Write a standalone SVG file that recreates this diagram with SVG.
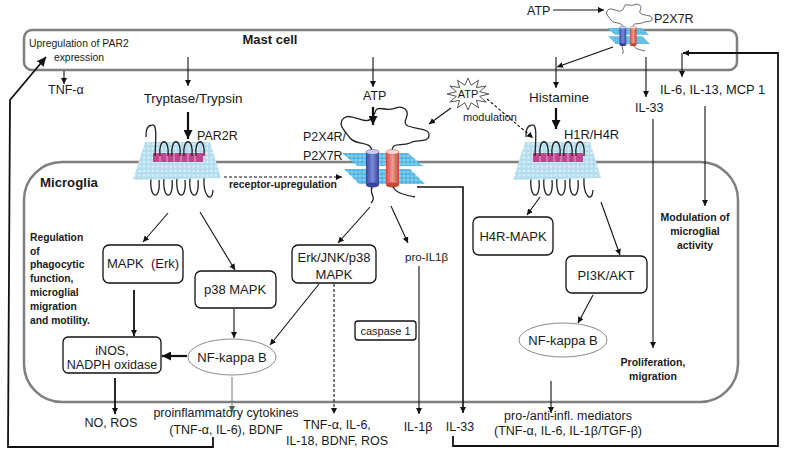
<svg xmlns="http://www.w3.org/2000/svg" xmlns:xlink="http://www.w3.org/1999/xlink" width="791" height="451" viewBox="0 0 791 451">
<style>
text{font-family:"Liberation Sans",Arial,sans-serif;fill:#1a1a1a;font-size:12.5px}
.b{font-weight:bold}
.m{text-anchor:middle}
.cell{fill:none;stroke:#7f7f7f;stroke-width:2.5}
.box{fill:#fff;stroke:#111;stroke-width:1.3}
.ell{fill:#fff;stroke:#8a8a8a;stroke-width:1}
.c{fill:none;stroke:#111;stroke-width:1.1}
.t{fill:none;stroke:#111;stroke-width:2.2}
.k{fill:none;stroke:#111;stroke-width:1.8}
.d{fill:none;stroke:#111;stroke-width:1.1;stroke-dasharray:3 2}
.g{fill:none;stroke:#777;stroke-width:1}
.loop{fill:none;stroke:#222;stroke-width:1.3}
</style>
<defs>
<marker id="a" viewBox="0 0 10 10" refX="10" refY="5" markerWidth="6" markerHeight="6" markerUnits="userSpaceOnUse" orient="auto"><path d="M0,0 L10,5 L0,10 z" fill="#111"/></marker>
<marker id="A" viewBox="0 0 10 10" refX="10" refY="5" markerWidth="9" markerHeight="9" markerUnits="userSpaceOnUse" orient="auto"><path d="M0,0 L10,5 L0,10 z" fill="#111"/></marker>
<marker id="ag" viewBox="0 0 10 10" refX="10" refY="5" markerWidth="6" markerHeight="6" markerUnits="userSpaceOnUse" orient="auto"><path d="M0,0 L10,5 L0,10 z" fill="#555"/></marker>
<pattern id="beads" width="4.5" height="4.5" patternUnits="userSpaceOnUse"><rect width="4.5" height="4.5" fill="#e4f4fa"/><circle cx="2.25" cy="2.25" r="1.9" fill="#b5dff0" stroke="#86c4de" stroke-width="0.4"/></pattern>
<pattern id="beads2" width="4" height="4" patternUnits="userSpaceOnUse"><rect width="4" height="4" fill="#8fd3f0"/><circle cx="2" cy="2" r="1.6" fill="#4fb6e4" stroke="#3aa0d0" stroke-width="0.3"/></pattern>
<linearGradient id="blu" x1="0" x2="1"><stop offset="0" stop-color="#3a4aa8"/><stop offset="0.5" stop-color="#7c8ad6"/><stop offset="1" stop-color="#36449a"/></linearGradient>
<linearGradient id="red" x1="0" x2="1"><stop offset="0" stop-color="#c9503a"/><stop offset="0.5" stop-color="#f29a86"/><stop offset="1" stop-color="#c04a36"/></linearGradient>
<g id="gpcr">
<path class="loop" d="M151,178 C149,200 161,201 159,180 M164,178 C162,200 174,201 172,180 M177,178 C175,200 187,201 185,180 M190,178 C188,200 200,201 198,180 M204,178 C203,196 212,204 213,190"/>
<polygon points="145,142 210,142 221,178 133,180" fill="url(#beads)"/>
<rect x="153" y="153" width="50" height="9" fill="#c2468f"/>
<path d="M160,153v9M167,153v9M174,153v9M181,153v9M188,153v9M195,153v9" stroke="#f0c0dc" stroke-width="0.8"/>
<path class="loop" d="M155,156 C156,136 157,124 152,125 C146,126 146,132 146,137 M160,156 C158,137 170,137 168,156 M172,156 C170,137 182,137 180,156 M184,156 C182,137 194,137 192,156 M196,156 C194,137 206,137 204,156"/>
</g>
<g id="p2x">
<polygon points="342,153 408,153 423,166 357,166" fill="url(#beads2)"/>
<polygon points="344,169 410,169 425,184 359,184" fill="url(#beads2)"/>
<path class="loop" d="M372,152 C372,140 356,146 350,138 C344,130 337,124 344,118 C351,112 365,126 372,118 C378,111 372,107 385,109 C395,111 398,104 405,109 C412,115 400,122 408,126 C418,130 430,128 429,136 C428,143 415,139 410,143 C401,147 392,141 392,152"/>
<rect x="366" y="152" width="13" height="33" fill="url(#blu)"/>
<ellipse cx="372.5" cy="152" rx="6.5" ry="2.5" fill="#c8cff0" stroke="#3a4aa8" stroke-width="0.5"/>
<ellipse cx="372.5" cy="185" rx="6.5" ry="2.5" fill="#36449a"/>
<rect x="386" y="152" width="13" height="33" fill="url(#red)"/>
<ellipse cx="392.5" cy="152" rx="6.5" ry="2.5" fill="#fbd8cf" stroke="#c04a36" stroke-width="0.5"/>
<ellipse cx="392.5" cy="185" rx="6.5" ry="2.5" fill="#c04a36"/>
<path class="loop" d="M372,187 C369,194 377,197 371,203 M393,187 C396,193 405,195 415,197"/>
</g>
</defs>
<rect width="791" height="451" fill="#fff"/>
<g id="mast-cell"><rect class="cell" x="24" y="30" width="713" height="40" rx="8"/></g>
<g id="microglia"><rect class="cell" x="24" y="162" width="714" height="240" rx="38"/></g>
<g id="par2r"><use xlink:href="#gpcr"/></g>
<g id="h1r-h4r"><use xlink:href="#gpcr" x="380"/></g>
<g id="p2x4r-p2x7r"><use xlink:href="#p2x"/></g>
<g id="p2x7r-top"><use xlink:href="#p2x" transform="translate(607,28) scale(0.52) translate(-342,-153)"/></g>
<g id="atp-burst"><polygon points="489,94 479.6,96.3 486.2,102 476.5,100.4 478.5,107.9 471.1,102.7 468,110 464.9,102.7 457.5,107.9 459.5,100.4 449.8,102 456.4,96.3 447,94 456.4,91.7 449.8,86 459.5,87.6 457.5,80.1 464.9,85.3 468,78 471.1,85.3 478.5,80.1 476.5,87.6 486.2,86 479.6,91.7" fill="#fff" stroke="#444" stroke-width="0.9"/><text class="m" x="468" y="98" style="font-size:11px">ATP</text></g>
<g id="mapk-erk"><rect class="box" x="103" y="245" width="80" height="38" rx="6"/><text class="m" x="143" y="268" style="font-size:13px">MAPK&#160; (Erk)</text></g>
<g id="p38-mapk"><rect class="box" x="195" y="271" width="81" height="37" rx="6"/><text class="m" x="235" y="294" style="font-size:13px">p38 MAPK</text></g>
<g id="erk-jnk"><rect class="box" x="292" y="245" width="84" height="38" rx="6"/><text class="m" x="334" y="262" style="font-size:13px">Erk/JNK/p38</text><text class="m" x="334" y="279" style="font-size:13px">MAPK</text></g>
<g id="inos"><rect class="box" x="63" y="337" width="98" height="36" rx="5"/><text class="m" x="112" y="355">iNOS,</text><text class="m" x="112" y="369">NADPH oxidase</text></g>
<g id="nfkb-left"><ellipse class="ell" cx="232" cy="357" rx="44" ry="18"/><text class="m" x="232" y="362" style="font-size:13px">NF-kappa B</text></g>
<g id="caspase"><rect class="box" x="355" y="321" width="61" height="19" rx="3"/><text class="m" x="385.5" y="335" style="font-size:11px">caspase 1</text></g>
<g id="h4r-mapk"><rect class="box" x="473" y="217" width="80" height="38" rx="6"/><text class="m" x="513" y="241" style="font-size:13px">H4R-MAPK</text></g>
<g id="pi3k"><rect class="box" x="566" y="256" width="81" height="37" rx="6"/><text class="m" x="606" y="280" style="font-size:13px">PI3K/AKT</text></g>
<g id="nfkb-right"><ellipse class="ell" cx="563" cy="340" rx="44" ry="17"/><text class="m" x="563" y="345" style="font-size:13px">NF-kappa B</text></g>
<g id="connectors">
<line class="c" x1="64" y1="71" x2="64" y2="84" marker-end="url(#a)"/>
<line class="c" x1="188" y1="57" x2="188" y2="86" marker-end="url(#a)"/>
<line class="t" x1="188" y1="112" x2="188" y2="139" marker-end="url(#A)"/>
<line class="c" x1="373" y1="57" x2="373" y2="87" marker-end="url(#a)"/>
<line class="t" x1="373" y1="107" x2="373" y2="125" marker-end="url(#A)"/>
<line class="c" x1="553" y1="10" x2="604" y2="10" marker-end="url(#a)"/>
<line class="c" x1="613" y1="47" x2="557" y2="67" marker-end="url(#a)"/>
<line class="c" x1="556" y1="57" x2="556" y2="88" marker-end="url(#a)"/>
<line class="t" x1="556" y1="108" x2="556" y2="129" marker-end="url(#A)"/>
<line class="c" x1="646" y1="57" x2="646" y2="97" marker-end="url(#a)"/>
<polyline class="k" points="453,436 453,446 778,446 778,53 683,53" marker-end="url(#a)"/>
<line class="c" x1="682" y1="53" x2="682" y2="77" marker-end="url(#a)"/>
<polyline class="k" points="213,437 213,447 8,447 10,100 46,57" marker-end="url(#A)"/>
<line class="d" x1="224" y1="177" x2="342" y2="177" marker-end="url(#a)"/>
<line class="c" x1="451" y1="108" x2="429" y2="124" marker-end="url(#a)"/>
<line class="d" x1="487" y1="99" x2="533" y2="138" marker-end="url(#a)"/>
<line class="c" x1="168" y1="213" x2="143" y2="242" marker-end="url(#a)"/>
<line class="c" x1="200" y1="212" x2="235" y2="270" marker-end="url(#a)"/>
<line class="c" x1="370" y1="207" x2="338" y2="243" marker-end="url(#a)"/>
<line class="c" x1="391" y1="206" x2="408" y2="243" marker-end="url(#a)"/>
<line class="k" x1="134" y1="290" x2="134" y2="336" marker-end="url(#a)"/>
<line class="c" x1="234" y1="309" x2="234" y2="338" marker-end="url(#a)"/>
<line class="c" x1="319" y1="284" x2="270" y2="345" marker-end="url(#a)"/>
<line class="t" x1="187" y1="356" x2="162" y2="356" marker-end="url(#A)"/>
<line class="k" x1="115" y1="378" x2="115" y2="414" marker-end="url(#a)"/>
<line class="g" x1="232" y1="377" x2="232" y2="412" marker-end="url(#ag)"/>
<line class="d" x1="334" y1="284" x2="334" y2="414" marker-end="url(#a)"/>
<line class="c" x1="419" y1="266" x2="419" y2="414" marker-end="url(#a)"/>
<polyline class="c" style="stroke-width:1.6" points="417,187 463,187 463,413" marker-end="url(#a)"/>
<line class="c" x1="540" y1="197" x2="527" y2="215" marker-end="url(#a)"/>
<line class="c" x1="601" y1="202" x2="620" y2="255" marker-end="url(#a)"/>
<line class="c" x1="593" y1="295" x2="578" y2="323" marker-end="url(#a)"/>
<line class="c" x1="551" y1="381" x2="551" y2="413" marker-end="url(#a)"/>
<line class="c" x1="653" y1="119" x2="653" y2="348" marker-end="url(#a)"/>
<line class="c" x1="705" y1="106" x2="705" y2="206" marker-end="url(#a)"/>
</g>
<g id="labels">
<text class="b m" x="270" y="44" style="font-size:13px">Mast cell</text>
<text x="29" y="47" style="font-size:10.4px">Upregulation of PAR2</text>
<text class="m" x="79" y="61" style="font-size:10.4px">expression</text>
<text x="48" y="94">TNF-α</text>
<text class="m" x="193" y="103" style="font-size:13.4px">Tryptase/Trypsin</text>
<text x="197" y="140" style="font-size:12.5px">PAR2R</text>
<text x="363" y="100">ATP</text>
<text x="303" y="141" style="font-size:12.5px">P2X4R/</text>
<text x="303" y="160" style="font-size:12.5px">P2X7R</text>
<text x="527" y="15">ATP</text>
<text x="654" y="23">P2X7R</text>
<text x="463" y="121" style="font-size:11px">modulation</text>
<text class="m" x="559" y="102" style="font-size:13.5px">Histamine</text>
<text x="564" y="139" style="font-size:12.9px">H1R/H4R</text>
<text x="635" y="112">IL-33</text>
<text x="660" y="94" style="font-size:12.9px">IL-6, IL-13, MCP 1</text>
<text class="b" x="40" y="187" style="font-size:13.2px">Microglia</text>
<text class="b" x="229" y="188" style="font-size:10.4px">receptor-upregulation</text>
<text class="b" style="font-size:10.3px"><tspan x="30" y="241">Regulation</tspan><tspan x="30" y="255">of</tspan><tspan x="30" y="268">phagocytic</tspan><tspan x="30" y="282">function,</tspan><tspan x="30" y="296">microglial</tspan><tspan x="30" y="310">migration</tspan><tspan x="30" y="324">and motility.</tspan></text>
<text x="405" y="261" style="font-size:11.5px">pro-IL1β</text>
<text class="b m" style="font-size:10.5px"><tspan x="695" y="221">Modulation of</tspan><tspan x="695" y="235">microglial</tspan><tspan x="695" y="249">activity</tspan></text>
<text class="b m" style="font-size:10.5px"><tspan x="653" y="366">Proliferation,</tspan><tspan x="653" y="380">migration</tspan></text>
<text class="m" x="111" y="427">NO, ROS</text>
<text class="m" x="226" y="417">proinflammatory cytokines</text>
<text class="m" x="226" y="434">(TNF-α, IL-6), BDNF</text>
<text class="m" x="337" y="429">TNF-α, IL-6,</text>
<text class="m" x="337" y="445">IL-18, BDNF, ROS</text>
<text class="m" x="418" y="431">IL-1β</text>
<text class="m" x="460" y="431">IL-33</text>
<text class="m" x="568" y="420">pro-/anti-infl. mediators</text>
<text class="m" x="568" y="435">(TNF-α, IL-6, IL-1β/TGF-β)</text>
</g>
</svg>
